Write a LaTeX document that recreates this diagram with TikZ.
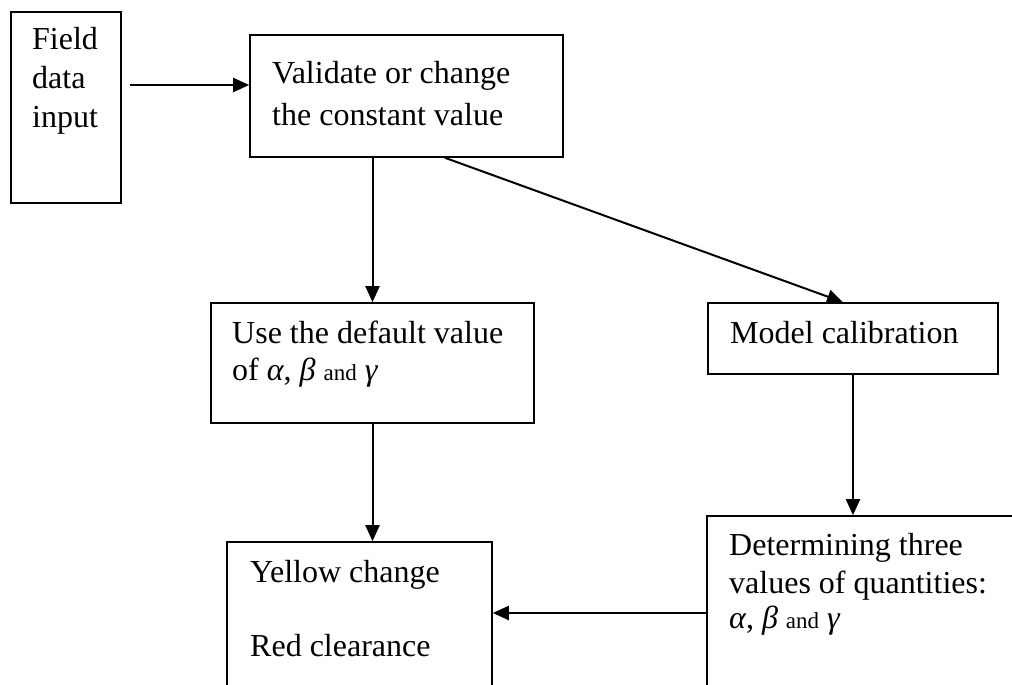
\documentclass[tikz,border=0pt]{standalone}
\usepackage{fontspec}
\setmainfont{Liberation Serif}
\usetikzlibrary{arrows.meta,calc}
\begin{document}
\begin{tikzpicture}[x=1pt,y=-1pt,
  box/.style={draw, line width=1.6pt, inner sep=0pt},
  txt/.style={anchor=base west, inner sep=0pt, font=\fontsize{32}{38}\selectfont},
  arr/.style={-{Triangle[length=16pt,width=14pt]}, line width=2pt}]
\fill[white] (0,0) rectangle (1012,685);
\useasboundingbox (0,0) rectangle (1012,685);
\clip (0,0) rectangle (1012,685);

% boxes
\node[box, minimum width=110pt, minimum height=191pt] (field) at (66,107.5) {};
\node[box, minimum width=313pt, minimum height=122pt] (validate) at (406.5,96) {};
\node[box, minimum width=323pt, minimum height=120pt] (use) at (372.5,363) {};
\node[box, minimum width=290pt, minimum height=71pt] (model) at (853,338.5) {};
\node[box, minimum width=333pt, minimum height=194pt] (determ) at (873.5,613) {};
\node[box, minimum width=265pt, minimum height=178pt] (yellow) at (359.5,631) {};

% texts
\node[txt] (f1) at (32,50) {Field};
\node[txt] (f2) at (32,88.5) {data};
\node[txt] (f3) at (32,127) {input};
\node[txt] (v1) at (272,83) {Validate or change};
\node[txt] (v2) at (272,125) {the constant value};
\node[txt] (u1) at (232,343) {Use the default value};
\node[txt] (u2) at (232,380) {of {\itshape α}, {\itshape β} {\fontsize{23}{26}\selectfont and} {\itshape γ}};
\node[txt] (m1) at (730,343) {Model calibration};
\node[txt] (d1) at (729,555) {Determining three};
\node[txt] (d2) at (729,593) {values of quantities:};
\node[txt] (d3) at (729,628) {{\itshape α}, {\itshape β} {\fontsize{23}{26}\selectfont and} {\itshape γ}};
\node[txt] (y1) at (250,582) {Yellow change};
\node[txt] (y2) at (250,656) {Red clearance};

% connectors
\draw[arr] ([xshift=8pt,yshift=22.5pt]field.east) -- ([yshift=11pt]validate.west);
\draw[arr] (use.north |- validate.south) -- (use.north);
\draw[arr] ([xshift=38.5pt]validate.south) -- ([xshift=-10pt]model.north);
\draw[arr] (use.south) -- (use.south |- yellow.north);
\draw[arr] (model.south) -- (model.south |- determ.north);
\draw[arr] (determ.west) -- (determ.west -| yellow.east);
\end{tikzpicture}
\end{document}
